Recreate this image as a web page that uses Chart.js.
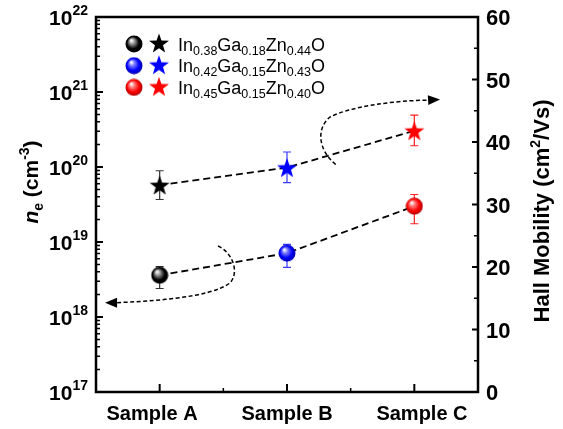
<!DOCTYPE html>
<html>
<head>
<meta charset="utf-8">
<script src="https://cdn.jsdelivr.net/npm/chart.js@4.4.0/dist/chart.umd.min.js"></script>
<style>
  html, body { margin: 0; padding: 0; background: #fff; }
  canvas { display: block; }
</style>
</head>
<body>
<canvas id="chart" width="563" height="429"></canvas>
<script>
// --- data ---
const samples = ['Sample A', 'Sample B', 'Sample C'];
const carrier = [3.6e18, 7.1e18, 3.0e19];          // n_e (cm^-3), left log axis
const carrierLo = [2.4e18, 4.6e18, 1.75e19];
const carrierHi = [4.7e18, 9.3e18, 4.3e19];
const mobility = [33.1, 35.9, 41.8];               // cm^2/Vs, right axis
const mobilityLo = [30.8, 33.5, 39.4];
const mobilityHi = [35.4, 38.4, 44.3];

const leftExponents = [17, 18, 19, 20, 21, 22];
const rightTicks = [0, 10, 20, 30, 40, 50, 60];

// legend formulas: alternating normal / subscript pieces
const legendFormulas = [
    ['In', '0.38', 'Ga', '0.18', 'Zn', '0.44', 'O'],
    ['In', '0.42', 'Ga', '0.15', 'Zn', '0.43', 'O'],
    ['In', '0.45', 'Ga', '0.15', 'Zn', '0.40', 'O']
];

// curved guide arrows (data units): start, ctrl, ctrl, mid, ctrl, ctrl, end, tip
const carrierArrow = [[0.458, 8.85e18], [0.568, 7.36e18], [0.631, 3.98e18], [0.552, 2.84e18],
                      [0.395, 1.79e18], [-0.076, 1.63e18], [-0.343, 1.55e18], [-0.429, 1.55e18]];
const mobilityArrow = [[1.383, 36.4], [1.243, 38.7], [1.228, 42.2], [1.338, 44.0],
                       [1.495, 45.6], [1.809, 46.6], [2.107, 46.7], [2.202, 46.8]];

const FONT = "'Liberation Sans', Arial, sans-serif";
const colors = ['#000000', '#0000ff', '#ff0000'];
const lightColors = ['#9a9a9a', '#8080ff', '#ff8080'];
const darkColors = ['#000000', '#0000a0', '#a00000'];
const errColors = ['#333333', '#3a3aff', '#ff2020'];

function makeSphere(i, d) {
    const c = document.createElement('canvas');
    c.width = d; c.height = d;
    const g = c.getContext('2d');
    const r = d / 2;
    const grad = g.createRadialGradient(r - 0.3 * r, r - 0.4 * r, 0.5, r, r, r);
    grad.addColorStop(0, '#ffffff');
    grad.addColorStop(0.25, lightColors[i]);
    grad.addColorStop(0.65, colors[i]);
    grad.addColorStop(1, darkColors[i]);
    g.fillStyle = grad;
    g.beginPath();
    g.arc(r, r, r - 0.5, 0, Math.PI * 2);
    g.fill();
    return c;
}

function makeStar(i, d) {
    const c = document.createElement('canvas');
    c.width = d; c.height = d;
    const g = c.getContext('2d');
    const R = d / 2 - 0.5, r = R * 0.4, cx = d / 2, cy = d / 2 + 1;
    g.fillStyle = colors[i];
    g.beginPath();
    for (let k = 0; k < 10; k++) {
        const rad = k % 2 === 0 ? R : r;
        const a = -Math.PI / 2 + k * Math.PI / 5;
        g.lineTo(cx + rad * Math.cos(a), cy + rad * Math.sin(a));
    }
    g.closePath();
    g.fill();
    return c;
}

const spheres = [0, 1, 2].map(i => makeSphere(i, 18));
const stars = [0, 1, 2].map(i => makeStar(i, 22));

// mixed-size text run; parts = [{t, f, dy}]
function runWidth(ctx, parts) {
    let w = 0;
    parts.forEach(p => { ctx.font = p.f; w += ctx.measureText(p.t).width; });
    return w;
}
function drawRun(ctx, parts, x, y) {
    parts.forEach(p => {
        ctx.font = p.f;
        ctx.fillText(p.t, x, y + (p.dy || 0));
        x += ctx.measureText(p.t).width;
    });
}

const errorBars = {
    id: 'errorBars',
    beforeDatasetsDraw(chart) {
        const { ctx, scales } = chart;
        const x = scales.x, y = scales.y, y1 = scales.y1;
        ctx.save();
        ctx.lineWidth = 1.2;
        samples.forEach((s, i) => {
            const px = x.getPixelForValue(i);
            [[y, carrierLo[i], carrierHi[i]], [y1, mobilityLo[i], mobilityHi[i]]].forEach(([sc, lo, hi]) => {
                const a = sc.getPixelForValue(lo), b = sc.getPixelForValue(hi);
                ctx.strokeStyle = errColors[i];
                ctx.beginPath();
                ctx.moveTo(px, a); ctx.lineTo(px, b);
                ctx.moveTo(px - 4, a); ctx.lineTo(px + 4, a);
                ctx.moveTo(px - 4, b); ctx.lineTo(px + 4, b);
                ctx.stroke();
            });
        });

        // curved dashed guide arrows
        [[carrierArrow, y], [mobilityArrow, y1]].forEach(([path, sc]) => {
            const p = path.map(([vx, vy]) => [x.getPixelForValue(vx), sc.getPixelForValue(vy)]);
            ctx.strokeStyle = '#000';
            ctx.lineWidth = 1.5;
            ctx.setLineDash([4, 2.5]);
            ctx.beginPath();
            ctx.moveTo(p[0][0], p[0][1]);
            ctx.bezierCurveTo(p[1][0], p[1][1], p[2][0], p[2][1], p[3][0], p[3][1]);
            ctx.bezierCurveTo(p[4][0], p[4][1], p[5][0], p[5][1], p[6][0], p[6][1]);
            ctx.stroke();
            ctx.setLineDash([]);
            const tip = p[7], base = p[6];
            const dx = tip[0] - base[0], dy = tip[1] - base[1];
            const len = Math.hypot(dx, dy), ux = dx / len, uy = dy / len;
            const bx = tip[0] - ux * 12, by = tip[1] - uy * 12;
            ctx.fillStyle = '#000';
            ctx.beginPath();
            ctx.moveTo(tip[0], tip[1]);
            ctx.lineTo(bx - uy * 5, by + ux * 5);
            ctx.lineTo(bx + uy * 5, by - ux * 5);
            ctx.closePath();
            ctx.fill();
        });
        ctx.restore();
    }
};

const frameAndText = {
    id: 'frameAndText',
    afterDraw(chart) {
        const { ctx, chartArea: a, scales } = chart;
        const x = scales.x, y = scales.y, y1 = scales.y1;
        ctx.save();
        ctx.fillStyle = '#000';
        ctx.strokeStyle = '#000';

        // ticks
        ctx.lineWidth = 2;
        ctx.beginPath();
        leftExponents.forEach(e => {
            const py = y.getPixelForValue(Math.pow(10, e));
            ctx.moveTo(a.left, py); ctx.lineTo(a.left + 7, py);
        });
        rightTicks.forEach(v => {
            const py = y1.getPixelForValue(v);
            ctx.moveTo(a.right, py); ctx.lineTo(a.right - 6, py);
        });
        samples.forEach((s, i) => {
            const px = x.getPixelForValue(i);
            ctx.moveTo(px, a.bottom); ctx.lineTo(px, a.bottom - 8);
        });
        ctx.stroke();
        ctx.lineWidth = 1.5;
        ctx.beginPath();
        leftExponents.slice(0, -1).forEach(e => {
            for (let m = 2; m <= 9; m++) {
                const py = y.getPixelForValue(m * Math.pow(10, e));
                ctx.moveTo(a.left, py); ctx.lineTo(a.left + 4, py);
            }
        });
        rightTicks.slice(0, -1).forEach(v => {
            const py = y1.getPixelForValue(v + 5);
            ctx.moveTo(a.right, py); ctx.lineTo(a.right - 4, py);
        });
        [0.5, 1.5].forEach(v => {
            const px = x.getPixelForValue(v);
            ctx.moveTo(px, a.bottom); ctx.lineTo(px, a.bottom - 4);
        });
        ctx.stroke();

        // frame
        ctx.lineWidth = 2.5;
        ctx.strokeRect(a.left, a.top, a.right - a.left, a.bottom - a.top);

        // left tick labels 10^n
        ctx.textBaseline = 'alphabetic';
        ctx.textAlign = 'left';
        leftExponents.forEach(e => {
            const py = y.getPixelForValue(Math.pow(10, e));
            const parts = [{ t: '10', f: 'bold 21px ' + FONT }, { t: String(e), f: 'bold 14px ' + FONT, dy: -10 }];
            const w = runWidth(ctx, parts);
            drawRun(ctx, parts, 88 - w, py + 7.5);
        });

        // right tick labels
        ctx.font = 'bold 22px ' + FONT;
        rightTicks.forEach(v => {
            ctx.fillText(String(v), a.right + 8, y1.getPixelForValue(v) + 8);
        });

        // category labels
        ctx.font = 'bold 20px ' + FONT;
        ctx.textAlign = 'center';
        const mid = x.getPixelForValue(1);
        samples.forEach((s, i) => {
            const px = mid + (x.getPixelForValue(i) - mid) * 1.06;
            ctx.fillText(s, px, 420);
        });
        ctx.textAlign = 'left';

        // axis titles
        const leftTitle = [
            { t: 'n', f: 'italic bold 21px ' + FONT },
            { t: 'e', f: 'bold 14px ' + FONT, dy: 5 },
            { t: ' (cm', f: 'bold 21px ' + FONT },
            { t: '-3', f: 'bold 14px ' + FONT, dy: -9 },
            { t: ')', f: 'bold 21px ' + FONT }
        ];
        ctx.save();
        ctx.translate(38, 182);
        ctx.rotate(-Math.PI / 2);
        drawRun(ctx, leftTitle, -runWidth(ctx, leftTitle) / 2, 0);
        ctx.restore();

        const rightTitle = [
            { t: 'Hall Mobility (cm', f: 'bold 22px ' + FONT },
            { t: '2', f: 'bold 14px ' + FONT, dy: -9 },
            { t: '/Vs)', f: 'bold 22px ' + FONT }
        ];
        ctx.save();
        ctx.translate(549, 211);
        ctx.rotate(-Math.PI / 2);
        drawRun(ctx, rightTitle, -runWidth(ctx, rightTitle) / 2, 0);
        ctx.restore();

        // legend
        legendFormulas.forEach((f, i) => {
            const cy = 44 + i * 21.7;
            ctx.drawImage(spheres[i], 134 - 9, cy - 9);
            ctx.drawImage(stars[i], 159 - 11, cy - 12);
            const parts = f.map((t, k) => k % 2 === 0
                ? { t, f: '18px ' + FONT }
                : { t, f: '12.5px ' + FONT, dy: 4 });
            ctx.fillStyle = '#000';
            drawRun(ctx, parts, 178, cy + 6.5);
        });
        ctx.restore();
    }
};

new Chart(document.getElementById('chart'), {
    type: 'scatter',
    data: {
        datasets: [
            {
                label: 'n_e',
                data: samples.map((s, i) => ({ x: i, y: carrier[i] })),
                yAxisID: 'y',
                pointStyle: spheres,
                order: 1
            },
            {
                label: 'mobility',
                data: samples.map((s, i) => ({ x: i, y: mobility[i] })),
                yAxisID: 'y1',
                pointStyle: stars,
                order: 1
            },
            {
                label: 'n_e line',
                data: samples.map((s, i) => ({ x: i, y: carrier[i] })),
                yAxisID: 'y',
                showLine: true,
                borderColor: '#000',
                borderWidth: 1.8,
                borderDash: [7, 4],
                pointRadius: 0,
                order: 2
            },
            {
                label: 'mobility line',
                data: samples.map((s, i) => ({ x: i, y: mobility[i] })),
                yAxisID: 'y1',
                showLine: true,
                borderColor: '#000',
                borderWidth: 1.8,
                borderDash: [7, 4],
                pointRadius: 0,
                order: 2
            }
        ]
    },
    options: {
        responsive: false,
        animation: false,
        events: [],
        clip: false,
        layout: { padding: { left: 96, right: 85, top: 17, bottom: 37 } },
        plugins: { legend: { display: false }, tooltip: { enabled: false } },
        scales: {
            x: { type: 'linear', min: -0.5, max: 2.5, display: false },
            y: { type: 'logarithmic', min: 1e17, max: 1e22, display: false },
            y1: { type: 'linear', min: 0, max: 60, display: false, position: 'right' }
        }
    },
    plugins: [errorBars, frameAndText]
});
</script>
</body>
</html>
